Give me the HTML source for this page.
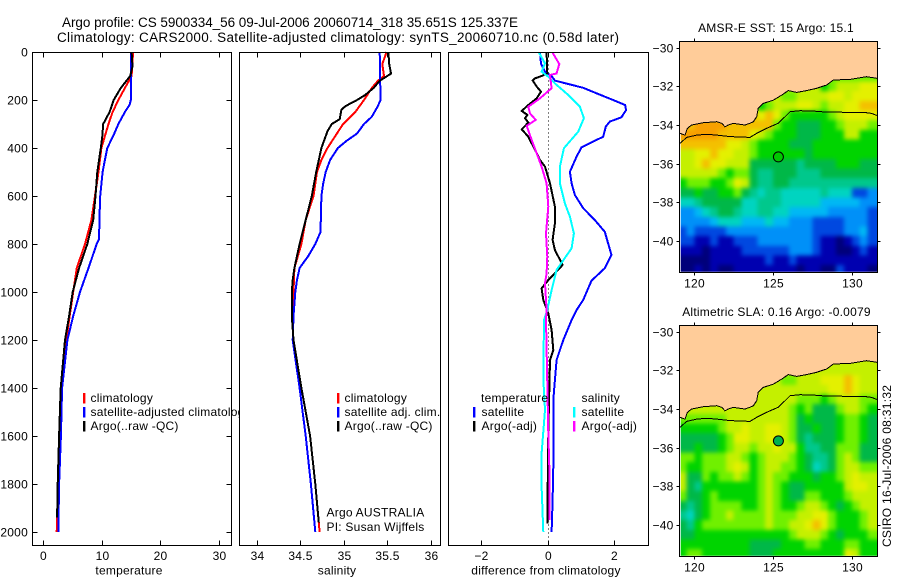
<!DOCTYPE html>
<html lang="en">
<head>
<meta charset="utf-8">
<title>Argo profile chart</title>
<style>
html,body{margin:0;padding:0;background:#fff;}
svg{display:block;}
text{font-family:"Liberation Sans",sans-serif;font-size:12px;fill:#000;letter-spacing:0.23px;}
.crisp{shape-rendering:crispEdges;}
</style>
</head>
<body>
<svg id="chart" xmlns="http://www.w3.org/2000/svg" width="900" height="580" viewBox="0 0 900 580">
  <defs>
    <clipPath id="map1-clip"><rect x="680.7" y="42" width="197" height="229.8"/></clipPath>
    <clipPath id="map2-clip"><rect x="680.7" y="326" width="197" height="229.8"/></clipPath>
    <filter id="soften" x="-5%" y="-5%" width="110%" height="110%" color-interpolation-filters="sRGB"><feGaussianBlur stdDeviation="2.2"/></filter>
  </defs>
  <rect width="900" height="580" fill="#fff"/>
  <text x="62" y="27" style="font-size:13.5px;letter-spacing:0" textLength="456" lengthAdjust="spacing">Argo profile: CS 5900334_56 09-Jul-2006 20060714_318 35.651S 125.337E</text>
  <text x="57" y="42" style="font-size:13.5px;letter-spacing:0" textLength="562" lengthAdjust="spacing">Climatology: CARS2000. Satellite-adjusted climatology: synTS_20060710.nc (0.58d later)</text>

  <g id="panel-temperature">
    <rect x="32.5" y="52.5" width="199" height="493" fill="#fff"/>
    <g id="p1-marks"></g>
    <rect class="crisp" x="32.5" y="52.5" width="199" height="493" fill="none" stroke="#000"/>
    <g id="p1-axes"></g>
    <text x="129" y="574.5" text-anchor="middle">temperature</text>
    <g>
      <rect x="83" y="393" width="2.4" height="10.5" fill="#f00"/>
      <text x="90.5" y="402">climatology</text>
      <rect x="83" y="407" width="2.4" height="10.5" fill="#00f"/>
      <text x="90.5" y="416">satellite-adjusted climatology</text>
      <rect x="83" y="421" width="2.4" height="10.5" fill="#000"/>
      <text x="90.5" y="430">Argo(..raw -QC)</text>
    </g>
  </g>

  <g id="panel-salinity">
    <rect x="239.5" y="52.5" width="201" height="493" fill="#fff"/>
    <g id="p2-marks"></g>
    <rect class="crisp" x="239.5" y="52.5" width="201" height="493" fill="none" stroke="#000"/>
    <g id="p2-axes"></g>
    <text x="337" y="574.5" text-anchor="middle">salinity</text>
    <g>
      <rect x="337" y="393" width="2.4" height="10.5" fill="#f00"/>
      <text x="344.5" y="402">climatology</text>
      <rect x="337" y="407" width="2.4" height="10.5" fill="#00f"/>
      <text x="344.5" y="416">satellite adj. clim.</text>
      <rect x="337" y="421" width="2.4" height="10.5" fill="#000"/>
      <text x="344.5" y="430">Argo(..raw -QC)</text>
    </g>
    <text x="326.5" y="516.5">Argo AUSTRALIA</text>
    <text x="326.5" y="531">PI: Susan Wijffels</text>
  </g>

  <g id="panel-difference">
    <rect x="448.5" y="52.5" width="200" height="493" fill="#fff"/>
    <g id="p3-marks"></g>
    <rect class="crisp" x="448.5" y="52.5" width="200" height="493" fill="none" stroke="#000"/>
    <g id="p3-axes"></g>
    <text x="546" y="574.5" text-anchor="middle">difference from climatology</text>
    <g>
      <text x="481" y="402">temperature</text>
      <rect x="473" y="407" width="2.4" height="10.5" fill="#00f"/>
      <text x="481.5" y="416">satellite</text>
      <rect x="473" y="421" width="2.4" height="10.5" fill="#000"/>
      <text x="481.5" y="430">Argo(-adj)</text>
      <text x="581.5" y="402">salinity</text>
      <rect x="573" y="407" width="2.4" height="10.5" fill="#0ff"/>
      <text x="581.5" y="416">satellite</text>
      <rect x="573" y="421" width="2.4" height="10.5" fill="#f0f"/>
      <text x="581.5" y="430">Argo(-adj)</text>
    </g>
  </g>

  <text x="776" y="32" text-anchor="middle">AMSR-E SST: 15 Argo: 15.1</text>
  <g id="map-sst"></g>
  <text x="776.5" y="316" text-anchor="middle">Altimetric SLA: 0.16 Argo: -0.0079</text>
  <g id="map-sla"></g>
  <text transform="translate(891,547) rotate(-90)" style="letter-spacing:0" textLength="162" lengthAdjust="spacing">CSIRO 16-Jul-2006 08:31:32</text>
</svg>
<script>
// ---------- profile axis ticks ----------
const depthTicks = [0,200,400,600,800,1000,1200,1400,1600,1800,2000];
const temperatureTicks = [0,10,20,30];
const salinityTicks = [34,34.5,35,35.5,36];
const differenceTicks = [-2,0,2];

// ---------- temperature profiles ----------
const tempClimDepth = [0,100,150,200,250,300,350,400,500,600,700,800,900,950,1000,1100,1200,1400,1600,1800,2000];
const tempClimValue = [15.3,15.05,13.9,12.8,11.8,11.1,10.5,9.9,9.4,8.8,8.2,7.1,5.7,5.4,5.1,4.5,3.9,3.0,2.75,2.5,2.28];
const tempSatDepth = [0,200,220,250,300,350,400,450,500,600,700,780,800,900,1000,1100,1200,1400,1600,1800,2000];
const tempSatValue = [14.9,14.9,14.7,13.9,12.8,11.9,10.9,10.5,10.1,9.7,9.55,9.5,9.1,7.7,6.25,5.1,4.1,3.2,3.0,2.7,2.55];
const tempArgoDepth = [0,60,100,150,200,250,300,350,400,500,600,700,800,900,1000,1100,1200,1400,1600,1800,1940];
const tempArgoValue = [15.05,15.2,14.8,13.2,12.0,11.3,10.2,10.05,9.8,9.2,8.9,8.5,7.5,6.1,5.0,4.4,3.7,2.96,2.7,2.45,2.35];

// ---------- salinity profiles ----------
const salClimDepth = [0,50,100,120,150,200,250,300,350,400,450,500,600,700,800,900,1000,1100,1200,1400,1600,1800,2000];
const salClimValue = [35.49,35.44,35.46,35.39,35.32,35.23,35.13,34.99,34.9,34.81,34.74,34.69,34.65,34.56,34.51,34.43,34.42,34.4,34.42,34.51,34.61,34.67,34.72];
const salSatDepth = [0,200,225,270,300,340,370,400,450,500,550,600,750,800,850,900,950,1000,1100,1200,1400,1600,1800,2000];
const salSatValue = [35.41,35.42,35.39,35.32,35.23,35.15,35.03,34.93,34.84,34.79,34.76,34.74,34.73,34.67,34.59,34.49,34.46,34.44,34.42,34.41,34.49,34.56,34.62,34.67];
const salArgoDepth = [0,50,90,120,150,180,200,225,240,280,300,330,400,450,500,600,700,800,900,950,1000,1100,1200,1400,1600,1800,1960];
const salArgoValue = [35.51,35.52,35.54,35.41,35.34,35.24,35.15,35.02,34.97,34.95,34.86,34.81,34.74,34.71,34.68,34.63,34.56,34.49,34.43,34.41,34.4,34.4,34.42,34.51,34.61,34.67,34.71];

// ---------- differences from climatology ----------
const diffTempSatDepth = [0,50,82,100,119,149,172,200,221,242,272,290,311,353,397,436,499,547,596,651,700,749,797,846,901,953,1033,1075,1117,1200,1283,1367,1450,1589,1728,1867,2000];
const diffTempSatValue = [-0.25,-0.22,-0.1,0.1,0.2,1.05,1.45,1.95,2.31,2.34,2.2,1.85,1.73,1.65,1.0,0.85,0.65,0.7,0.8,1.05,1.4,1.7,1.8,1.9,1.7,1.3,1.05,0.85,0.7,0.45,0.25,0.2,0.15,0.15,0.15,0.13,0.1];
const diffTempArgoDepth = [3,89,100,110,119,144,165,193,221,246,262,276,294,322,353,408,450,478,547,644,714,783,825,887,922,950,985,1033,1089,1158,1242,1283,1408,1589,1964];
const diffTempArgoValue = [-0.05,-0.03,-0.2,-0.4,-0.47,-0.35,-0.22,-0.35,-0.6,-0.8,-0.63,-0.7,-0.6,-0.8,-0.6,-0.4,-0.25,-0.1,0.05,0.2,0.2,0.13,0.2,0.43,0.2,0,-0.2,-0.15,0,0.1,0.15,0.05,0.03,0,-0.03];
const diffSalSatDepth = [3,47,82,103,131,179,228,276,332,401,478,547,631,686,756,818,908,992,1075,1117,1359,1492,1672,1811,2000];
const diffSalSatValue = [-0.28,-0.1,-0.2,0,0.2,0.6,0.95,1.07,0.9,0.47,0.35,0.35,0.5,0.65,0.77,0.7,0.25,0.1,-0.03,-0.13,-0.15,-0.1,-0.2,-0.2,-0.15];
const diffSalArgoDepth = [3,50,89,96,151,193,228,256,283,308,367,422,478,547,644,756,853,922,964,1075,1117,1380,1589,1728,1950];
const diffSalArgoValue = [0.13,0.33,0.25,0.05,0.1,-0.25,-0.6,-0.55,-0.38,-0.65,-0.5,-0.35,-0.2,-0.05,0,-0.07,-0.03,-0.05,-0.1,-0.05,-0.07,-0.03,0,0.03,0.03];

// ---------- map axes and grids ----------
const mapLonTicks = [120,125,130];
const mapLatTicks = [-30,-32,-34,-36,-38,-40];
const gridLons = [119.25,119.75,120.25,120.75,121.25,121.75,122.25,122.75,123.25,123.75,124.25,124.75,125.25,125.75,126.25,126.75,127.25,127.75,128.25,128.75,129.25,129.75,130.25,130.75,131.25];
const gridLats = [-31.5,-32,-32.5,-33,-33.5,-34,-34.5,-35,-35.5,-36,-36.5,-37,-37.5,-38,-38.5,-39,-39.5,-40,-40.5,-41,-41.5];
const levelColors = ['#00007a','#0000b0','#0048e0','#0090f8','#00b8f4','#00d4c0','#00c88c','#00b848','#00d400','#70f000','#c4f000','#e4f000','#f4c000','#f8a000'];

const sstLevels = [
[10,10,10,10,10,10,10,10,10,10,10,10,10,10,10,10,10,10,10,9,9,9,9,9,9],
[10,10,10,10,10,10,10,10,10,10,10,10,10,10,10,10,10,10,8,9,10,10,10,11,11],
[10,10,10,10,10,10,10,10,10,10,10,10,10,9,9,10,10,10,10,11,11,10,11,11,11],
[10,10,10,10,10,10,10,10,10,10,8,9,10,10,10,11,11,10,9,10,10,11,11,12,12],
[10,10,10,10,10,10,10,10,10,12,11,12,11,9,8,8,8,8,8,9,10,11,11,11,11],
[13,12,13,13,13,13,12,12,12,12,12,12,9,8,8,7,7,7,8,8,9,10,10,10,9],
[13,13,13,13,13,12,12,12,12,11,10,9,8,8,8,7,7,7,8,8,8,10,10,8,8],
[12,12,12,12,12,12,11,11,10,9,8,8,8,8,7,7,7,8,8,8,8,8,8,8,8],
[10,10,11,11,12,11,11,10,10,9,8,8,8,8,8,8,7,8,8,8,8,8,8,8,8],
[10,10,11,12,11,11,10,10,10,7,7,7,7,7,7,6,7,7,7,7,8,8,8,7,7],
[10,10,10,10,10,9,8,9,9,7,6,6,7,7,7,6,6,6,7,7,7,7,7,7,7],
[8,9,9,9,8,8,9,11,10,7,6,6,7,7,6,6,6,6,6,6,6,6,6,6,6],
[7,7,8,7,7,8,8,9,7,6,5,6,6,5,5,5,5,5,6,5,5,5,2,2,3],
[5,5,6,7,7,7,7,7,5,5,6,6,6,5,5,5,5,5,4,4,4,4,4,3,3],
[3,3,4,5,6,7,7,6,5,5,6,6,5,5,4,4,4,4,4,3,3,3,3,3,2],
[3,3,3,3,4,5,5,5,4,4,4,5,4,4,3,3,3,2,2,2,2,3,3,3,2],
[2,3,2,2,2,2,3,3,3,3,3,3,3,3,3,3,3,2,2,2,2,3,3,4,2],
[2,2,1,1,2,1,1,2,2,2,3,3,3,3,3,3,3,2,1,1,0,1,2,3,2],
[1,1,1,0,1,1,1,1,2,2,2,2,2,2,3,3,3,2,1,1,0,0,1,2,1],
[0,0,0,0,1,1,1,1,1,1,1,2,1,1,2,1,1,1,1,1,1,1,1,1,1],
[0,0,1,0,1,0,0,1,1,1,1,1,1,1,1,0,1,1,0,0,2,1,1,1,0]
];
const slaLevels = [
[10,10,10,10,10,10,10,10,10,10,10,10,10,10,10,10,10,10,10,10,10,10,10,10,10],
[10,10,10,10,10,10,10,10,10,10,10,10,10,10,10,10,10,10,10,10,10,10,10,10,10],
[10,10,10,10,10,10,10,10,10,10,10,10,10,9,9,10,10,10,11,11,11,12,11,10,10],
[10,10,10,10,10,10,10,10,10,10,10,10,10,10,10,10,10,10,10,11,11,12,11,10,10],
[10,10,10,10,10,10,10,10,10,10,10,10,10,10,10,9,9,9,8,9,10,10,10,9,9],
[10,10,10,10,10,10,10,10,10,10,10,10,10,10,9,8,9,7,7,7,9,10,10,9,8],
[9,9,9,9,9,9,10,10,10,10,10,10,10,10,9,7,8,7,7,7,8,9,9,8,7],
[8,8,8,8,8,9,10,10,11,10,10,11,11,10,9,7,7,8,7,7,8,9,9,8,7],
[7,7,7,7,7,8,9,11,11,10,10,11,11,10,9,7,6,7,7,7,8,9,9,8,7],
[7,7,8,7,7,8,9,10,10,9,10,10,11,10,10,8,6,6,7,7,9,9,9,7,7],
[9,9,8,9,9,9,10,10,9,8,9,10,10,10,9,8,7,6,6,7,9,10,9,7,7],
[9,8,8,9,9,9,10,11,10,8,9,10,10,9,9,8,7,5,6,7,9,10,10,9,9],
[10,7,7,9,8,9,9,10,9,8,9,10,9,9,8,8,8,7,8,8,9,10,11,10,10],
[10,7,6,8,8,8,8,8,8,8,9,10,9,8,7,7,8,8,8,8,8,10,11,11,10],
[9,7,7,8,9,8,8,8,8,8,9,10,9,8,7,7,9,9,8,8,8,9,10,10,10],
[7,6,7,8,9,9,9,9,8,8,9,10,9,8,8,9,10,10,9,8,7,8,9,10,10],
[6,5,7,8,9,9,10,9,9,9,9,10,9,9,9,10,10,11,11,9,8,8,8,9,10],
[7,6,8,9,9,9,9,9,9,9,9,10,9,9,10,10,11,12,11,9,8,8,8,9,10],
[7,7,8,8,8,8,8,8,8,8,8,8,8,8,9,10,10,10,9,8,7,8,8,8,9],
[8,8,8,8,8,8,8,8,8,7,7,7,7,8,8,8,9,9,8,8,8,9,9,8,8],
[8,9,9,8,8,8,8,8,8,7,7,7,8,8,8,8,8,8,8,8,8,11,10,8,8]
];

// ---------- coastline and shelf-break contour ----------
const coastLon = [119.09,119.41,119.56,119.83,120.57,121.42,121.74,121.95,122.16,122.48,122.79,123.22,123.53,123.75,123.96,124.06,124.38,125.02,125.55,125.97,126.5,127.13,127.77,128.4,128.83,129.88,130.94,131.64];
const coastLat = [-34.43,-34.52,-34.17,-34.0,-33.88,-33.83,-33.91,-34.09,-34.0,-33.91,-33.95,-34.0,-33.91,-33.83,-33.57,-33.14,-32.88,-32.71,-32.45,-32.22,-32.31,-32.22,-32.10,-31.93,-31.67,-31.64,-31.5,-31.59];
const contourLon = [119.09,119.51,120.15,120.78,121.42,122.27,123.53,123.96,124.59,125.33,125.65,126.08,126.71,127.56,128.4,129.67,130.73,131.26,131.64];
const contourLat = [-34.95,-34.64,-34.52,-34.48,-34.52,-34.6,-34.64,-34.43,-34.17,-33.91,-33.66,-33.31,-33.26,-33.28,-33.33,-33.34,-33.34,-33.40,-33.52];
const floatLon = [125.337];
const floatLat = [-35.651];

// ---------- axis functions ----------
const NS = 'http://www.w3.org/2000/svg';
const depthY = d => 52 + 0.24 * d;
const tempX = v => 43.3 + 5.87 * v;
const salX = v => 257 + 87 * (v - 34);
const diffX = v => 548.3 + 33.25 * v;
const lonX = lon => 694.3 + (lon - 120) * 15.75;
const latY = (lat, top) => top + (-30 - lat) * 19.33;

function mk(tag, parent) {
  const e = document.createElementNS(NS, tag);
  parent.appendChild(e);
  return e;
}

function drawProfile(parent, scaleX, depths, values, color, width, name) {
  const line = mk('polyline', parent);
  
  
  line.setAttribute('class', 'crisp');
  line.setAttribute('fill', 'none');
  line.setAttribute('stroke', color);
  line.setAttribute('stroke-width', width);
  line.setAttribute('points', depths.map((d, i) => scaleX(values[i]).toFixed(1) + ',' + depthY(d).toFixed(1)).join(' '));
}

function drawTick(parent, x1, y1, x2, y2) {
  const t = mk('line', parent);
  
  
  t.setAttribute('class', 'crisp');
  t.setAttribute('x1', x1);
  t.setAttribute('y1', y1);
  t.setAttribute('x2', x2);
  t.setAttribute('y2', y2);
  t.setAttribute('stroke', '#000');
}

function drawLabel(parent, x, y, anchor, str) {
  const t = mk('text', parent);
  
  
  t.setAttribute('x', x);
  t.setAttribute('y', y);
  t.setAttribute('text-anchor', anchor);
  t.textContent = String(str).replace('-', '\u2212');
}

function xAxis(parent, ticks, scaleX) {
  ticks.forEach(v => {
    const x = Math.floor(scaleX(v)) + 0.5;
    drawTick(parent, x, 52.5, x, 57.5);
    drawTick(parent, x, 545.5, x, 540.5);
    drawLabel(parent, x, 560, 'middle', v);
  });
}

// ---------- temperature panel ----------
const p1 = document.getElementById('p1-marks');
drawProfile(p1, tempX, tempClimDepth, tempClimValue, '#f00', 2, 'temperature-climatology-line');
drawProfile(p1, tempX, tempSatDepth, tempSatValue, '#00f', 2, 'temperature-satellite-line');
drawProfile(p1, tempX, tempArgoDepth, tempArgoValue, '#000', 2, 'temperature-argo-line');
const a1 = document.getElementById('p1-axes');
xAxis(a1, temperatureTicks, tempX);
depthTicks.forEach(d => {
  const y = Math.round(depthY(d)) + 0.5;
  drawTick(a1, 32.5, y, 37.5, y);
  drawTick(a1, 231.5, y, 226.5, y);
  drawLabel(a1, 28, y + 4, 'end', d);
});

// ---------- salinity panel ----------
const p2 = document.getElementById('p2-marks');
drawProfile(p2, salX, salClimDepth, salClimValue, '#f00', 2, 'salinity-climatology-line');
drawProfile(p2, salX, salSatDepth, salSatValue, '#00f', 2, 'salinity-satellite-line');
drawProfile(p2, salX, salArgoDepth, salArgoValue, '#000', 2, 'salinity-argo-line');
const a2 = document.getElementById('p2-axes');
xAxis(a2, salinityTicks, salX);

// ---------- difference panel ----------
const p3 = document.getElementById('p3-marks');
const zeroLine = mk('line', p3);


zeroLine.setAttribute('class', 'crisp');
zeroLine.setAttribute('x1', diffX(0));
zeroLine.setAttribute('x2', diffX(0));
zeroLine.setAttribute('y1', 52.5);
zeroLine.setAttribute('y2', 545.5);
zeroLine.setAttribute('stroke', '#000');
zeroLine.setAttribute('stroke-dasharray', '1 3');
drawProfile(p3, diffX, diffTempSatDepth, diffTempSatValue, '#00f', 2, 'difference-temperature-satellite-line');
drawProfile(p3, diffX, diffTempArgoDepth, diffTempArgoValue, '#000', 2, 'difference-temperature-argo-line');
drawProfile(p3, diffX, diffSalSatDepth, diffSalSatValue, '#0ff', 2, 'difference-salinity-satellite-line');
drawProfile(p3, diffX, diffSalArgoDepth, diffSalArgoValue, '#f0f', 2, 'difference-salinity-argo-line');
const a3 = document.getElementById('p3-axes');
xAxis(a3, differenceTicks, diffX);

// ---------- maps ----------
function drawMap(group, levels, top, frameTop, clipId, markerFill, ringRadius) {
  const clipped = mk('g', group);
  
  
  clipped.setAttribute('clip-path', 'url(#' + clipId + ')');
  const cells = mk('g', clipped);
  
  
  cells.setAttribute('filter', 'url(#soften)');
  levels.forEach((row, r) => {
    row.forEach((level, c) => {
      const cell = mk('rect', cells);
      
      
      cell.setAttribute('class', 'crisp');
      const isFirst = c === 0;
      const isLast = c === row.length - 1;
      const isBottom = r === levels.length - 1;
      const x0 = lonX(gridLons[c] - 0.25) - (isFirst ? 8 : 0);
      const y0 = latY(gridLats[r] + 0.25, top);
      cell.setAttribute('x', x0.toFixed(2));
      cell.setAttribute('y', y0.toFixed(2));
      cell.setAttribute('width', (lonX(gridLons[c] + 0.25) - x0 + 0.5 + (isLast ? 10 : 0)).toFixed(2));
      cell.setAttribute('height', (latY(gridLats[r] - 0.25, top) - y0 + 0.5 + (isBottom ? 8 : 0)).toFixed(2));
      cell.setAttribute('fill', levelColors[Math.max(0, Math.min(levelColors.length - 1, Math.round(level)))]);
    });
  });

  const coastPts = coastLon.map((lon, i) => lonX(lon).toFixed(1) + ',' + latY(coastLat[i], top).toFixed(1));

  const land = mk('polygon', group);
  
  
  land.setAttribute('fill', '#ffcc99');
  land.setAttribute('points', '680,' + (frameTop + 0.5) + ' 680,' + latY(coastLat[0], top).toFixed(1) + ' ' + coastPts.join(' ') + ' 877.5,' + latY(coastLat[coastLat.length - 1], top).toFixed(1) + ' 877.5,' + (frameTop + 0.5));

  const coast = mk('polyline', group);
  
  
  coast.setAttribute('class', 'crisp');
  coast.setAttribute('fill', 'none');
  coast.setAttribute('stroke', '#000');
  coast.setAttribute('stroke-width', '1');
  coast.setAttribute('points', coastPts.join(' '));

  const contour = mk('polyline', group);
  
  
  contour.setAttribute('class', 'crisp');
  contour.setAttribute('fill', 'none');
  contour.setAttribute('stroke', '#000');
  contour.setAttribute('stroke-width', '1');
  contour.setAttribute('points', contourLon.map((lon, i) => lonX(lon).toFixed(1) + ',' + latY(contourLat[i], top).toFixed(1)).join(' '));

  const frame = mk('rect', group);
  
  
  frame.setAttribute('class', 'crisp');
  frame.setAttribute('x', 679.5);
  frame.setAttribute('y', frameTop);
  frame.setAttribute('width', 198);
  frame.setAttribute('height', 231);
  frame.setAttribute('fill', 'none');
  frame.setAttribute('stroke', '#000');

  const frameBottom = frameTop + 231;
  mapLonTicks.forEach(lon => {
    const x = Math.round(lonX(lon)) + 0.5;
    drawTick(group, x, frameTop, x, frameTop - 3);
    drawTick(group, x, frameBottom, x, frameBottom + 3);
    drawLabel(group, x, frameBottom + 15, 'middle', lon);
  });
  mapLatTicks.forEach(lat => {
    const y = Math.round(latY(lat, top)) + 0.5;
    drawTick(group, 679.5, y, 676.5, y);
    drawTick(group, 877.5, y, 880.5, y);
    drawLabel(group, 673.5, y + 4, 'end', lat);
  });

  const ring = mk('circle', group);
  
  
  ring.setAttribute('cx', lonX(floatLon[0]).toFixed(1));
  ring.setAttribute('cy', latY(floatLat[0], top).toFixed(1));
  ring.setAttribute('r', ringRadius);
  ring.setAttribute('fill', markerFill);
  ring.setAttribute('stroke', '#000');
  ring.setAttribute('stroke-width', '1');
}

drawMap(document.getElementById('map-sst'), sstLevels, 47.7, 41.5, 'map1-clip', '#00c800', 5);
drawMap(document.getElementById('map-sla'), slaLevels, 331.7, 325.5, 'map2-clip', '#00b050', 5);
</script>
</body>
</html>
